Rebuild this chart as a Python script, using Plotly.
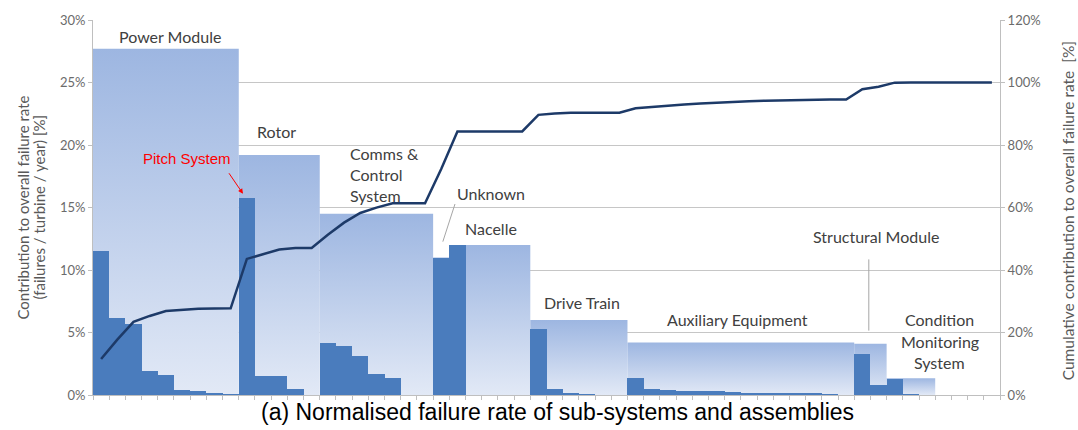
import plotly.graph_objects as go

# assemblies (light blocks) - name, number of sub-system slots, total value [%]
assemblies = ['Power Module', 'Rotor', 'Comms & Control System', 'Unknown', 'Nacelle',
              'Drive Train', 'Auxiliary Equipment', 'Structural Module', 'Condition Monitoring System']
assembly_sizes = [9, 5, 7, 1, 5, 6, 14, 2, 3]
assembly_values = [27.7, 19.2, 14.5, 11.0, 12.0, 6.0, 4.2, 4.1, 1.35]

# sub-systems / assemblies (dark bars) [%], 56 slots
subsystem_values = [11.5, 6.2, 5.7, 1.9, 1.6, 0.4, 0.3, 0.1, 0.05,
                    15.8, 1.5, 1.5, 0.5, 0.0,
                    4.2, 3.9, 3.1, 1.7, 1.4, 0.0, 0.0,
                    11.0,
                    12.0, 0.0, 0.0, 0.0, 0.0,
                    5.3, 0.45, 0.2, 0.05, 0.0, 0.0,
                    1.4, 0.45, 0.4, 0.35, 0.3, 0.3, 0.25, 0.2, 0.15, 0.15, 0.1, 0.1, 0.05, 0.0,
                    3.3, 0.8,
                    1.3, 0.05, 0.0,
                    0.0, 0.0, 0.0, 0.0]

# cumulative contribution [%]
cumulative = [11.5, 17.7, 23.4, 25.3, 26.9, 27.3, 27.6, 27.7, 27.75,
              43.55, 45.05, 46.55, 47.05, 47.05,
              51.25, 55.15, 58.25, 59.95, 61.35, 61.35, 61.35,
              72.35,
              84.35, 84.35, 84.35, 84.35, 84.35,
              89.65, 90.1, 90.3, 90.35, 90.35, 90.35,
              91.75, 92.2, 92.6, 92.95, 93.25, 93.55, 93.8, 94.0, 94.15, 94.3, 94.4, 94.5, 94.55, 94.55,
              97.85, 98.65,
              99.95, 100.0, 100.0,
              100.0, 100.0, 100.0, 100.0]

n = len(subsystem_values)
slots = list(range(n))

fig = go.Figure()

# assembly blocks with vertical gradient
start = 0
for name, size, val in zip(assemblies, assembly_sizes, assembly_values):
    x0, x1 = start - 0.5, start + size - 0.5
    fig.add_trace(go.Scatter(x=[x0, x0, x1, x1, x0], y=[0, val, val, 0, 0],
                             mode='lines', line=dict(width=0), fill='toself',
                             fillgradient=dict(type='vertical',
                                               colorscale=[[0, '#e2e9f6'], [1, '#9db6e1']]),
                             hoverinfo='skip', name=name))
    start += size

fig.add_trace(go.Bar(x=slots, y=subsystem_values, width=1, yaxis='y2',
                     marker=dict(color='#4a7cbd', line=dict(width=0))))

fig.add_trace(go.Scatter(x=slots, y=cumulative, yaxis='y3', mode='lines',
                         line=dict(color='#1d3a68', width=2.5)))

grey = '#595959'
axis_line = '#bfbfbf'
label_font = dict(family='Lato', size=16, color='#404040')

labels = [('Power Module', 4.25, 28.66, 'center'),
          ('Rotor', 10.86, 21.1, 'center'),
          ('Comms &', 15.24, 19.32, 'left'),
          ('Control', 15.24, 17.66, 'left'),
          ('System', 15.24, 16.0, 'left'),
          ('Unknown', 24.07, 16.15, 'center'),
          ('Nacelle', 24.07, 13.3, 'center'),
          ('Drive Train', 29.69, 7.44, 'center'),
          ('Auxiliary Equipment', 39.3, 6.02, 'center'),
          ('Structural Module', 47.83, 12.67, 'center'),
          ('Condition', 51.78, 6.02, 'center'),
          ('Monitoring', 51.78, 4.28, 'center'),
          ('System', 51.78, 2.61, 'center')]

annotations = [dict(text=t, x=x, y=y, xref='x', yref='y', xanchor=a, yanchor='middle',
                    showarrow=False, font=label_font) for t, x, y, a in labels]

annotations += [
    dict(text='Pitch System', x=5.3, y=18.9, xref='x', yref='y', showarrow=False,
         font=dict(family='Liberation Sans', size=15, color='#ff0000')),
    dict(text='', x=8.76, y=16.1, xref='x', yref='y', ax=-15, ay=-22, showarrow=True,
         arrowhead=2, arrowsize=1, arrowwidth=1, arrowcolor='#ff0000'),
    dict(text='(a) Normalised failure rate of sub-systems and assemblies',
         x=(557 - 93) / 907, y=0, xref='paper', yref='paper', yanchor='middle', yshift=-17,
         showarrow=False, font=dict(family='Liberation Sans', size=23, color='#000000')),
    dict(text='Contribution to overall failure rate',
         x=0, y=0.5, xref='paper', yref='paper', xanchor='center', yanchor='middle',
         xshift=-71, textangle=-90, showarrow=False,
         font=dict(family='Lato', size=15, color=grey)),
    dict(text='(failures / turbine / year) [%]',
         x=0, y=0.5, xref='paper', yref='paper', xanchor='center', yanchor='middle',
         xshift=-55, textangle=-90, showarrow=False,
         font=dict(family='Lato', size=15, color=grey)),
    dict(text='Cumulative contribution to overall failure rate  [%]',
         x=1, y=0.49, xref='paper', yref='paper', xanchor='center', yanchor='middle',
         xshift=68, textangle=-90, showarrow=False,
         font=dict(family='Lato', size=15.5, color=grey)),
]

shapes = [dict(type='line', x0=21.85, y0=15.28, x1=21.1, y1=12.27, xref='x', yref='y',
               line=dict(color='#a6a6a6', width=1)),
          dict(type='line', x0=47.4, y0=10.85, x1=47.4, y1=5.15, xref='x', yref='y',
               line=dict(color='#a6a6a6', width=1))]

tick_font = dict(family='Lato', size=13, color='#6b6b6b')

fig.update_layout(
    width=1078, height=430,
    margin=dict(l=93, r=78, t=16, b=35),
    paper_bgcolor='white', plot_bgcolor='white',
    showlegend=False, bargap=0,
    xaxis=dict(range=[-0.5, n - 0.5], showgrid=False, zeroline=False,
               tickmode='array', tickvals=[i - 0.5 for i in range(n + 1)],
               showticklabels=False, ticks='outside', ticklen=4, tickcolor=axis_line,
               showline=True, linecolor=axis_line),
    yaxis=dict(range=[0, 30], dtick=5, ticksuffix='%', showgrid=True, gridcolor='#c6c6c6',
               zeroline=False, showline=True, linecolor=axis_line, ticks='outside',
               ticklen=4, tickcolor=axis_line, tickfont=tick_font),
    yaxis2=dict(range=[0, 30], overlaying='y', visible=False),
    yaxis3=dict(range=[0, 120], dtick=20, ticksuffix='%', overlaying='y', side='right',
                showgrid=False, zeroline=False, showline=True, linecolor=axis_line,
                ticks='outside', ticklen=4, tickcolor=axis_line, tickfont=tick_font),
    annotations=annotations,
    shapes=shapes,
)

# drop the default page margin so the figure sits at the window's corner
fig.write_html("out.html", config={'displayModeBar': False},
               post_script="document.body.style.margin='0';")
